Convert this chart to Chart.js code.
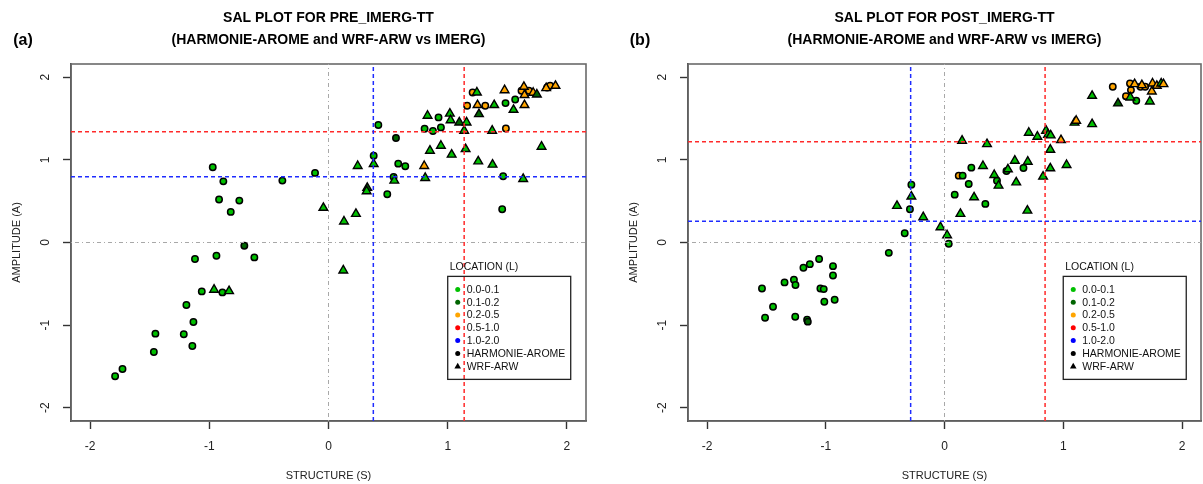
<!DOCTYPE html>
<html><head><meta charset="utf-8">
<script src="https://cdn.jsdelivr.net/npm/chart.js@4/dist/chart.umd.min.js"></script>
<style>
html,body{margin:0;padding:0;background:#fff;}
#wrap{position:relative;width:1203px;height:484px;overflow:hidden;background:#fff;}
canvas{position:absolute;top:0;}
</style></head><body>
<div id="wrap">
<canvas id="c1" width="600" height="484" style="left:0px"></canvas>
<canvas id="c2" width="608" height="484" style="left:600px"></canvas>
</div>
<script>
// ---------- data ----------
const tickValues = [-2, -1, 0, 1, 2];
const axisMin = -2.16, axisMax = 2.16;
const locationLabels = ['0.0-0.1', '0.1-0.2', '0.2-0.5', '0.5-1.0', '1.0-2.0'];
const locationColors = ['#00c000', '#006400', '#ffa500', '#ff0000', '#0000ff'];
const modelLabels = ['HARMONIE-AROME', 'WRF-ARW'];
const legendTitle = 'LOCATION (L)';
const xTitle = 'STRUCTURE (S)';
const yTitle = 'AMPLITUDE (A)';
const preTitle = ['SAL PLOT FOR PRE_IMERG-TT', '(HARMONIE-AROME and WRF-ARW vs IMERG)'];
const postTitle = ['SAL PLOT FOR POST_IMERG-TT', '(HARMONIE-AROME and WRF-ARW vs IMERG)'];
const panelTags = ['(a)', '(b)'];

// PRE_IMERG-TT : HARMONIE-AROME (circles)
const preHarmS = [-0.971,-0.882,-0.387,-0.113,-0.918,-0.748,-0.820,-0.706,-0.940,-0.622,-1.120,-1.063,-0.890,-1.192,-1.133,-1.452,-1.214,-1.142,-1.465,-1.728,-1.790,
  0.418,0.566,0.923,0.806,0.876,0.943,1.488,1.209,1.163,1.315,1.485,1.566,1.619,1.681,1.834,1.859,1.465,1.457,0.379,0.585,0.644,0.546,0.493];
const preHarmA = [0.910,0.740,0.749,0.842,0.520,0.507,0.370,-0.040,-0.160,-0.180,-0.200,-0.592,-0.604,-0.757,-0.962,-1.103,-1.111,-1.252,-1.325,-1.530,-1.618,
  1.421,1.264,1.514,1.377,1.349,1.393,1.380,1.815,1.655,1.655,1.687,1.730,1.836,1.836,1.876,1.896,0.801,0.402,1.051,0.954,0.922,0.793,0.584];
const preHarmL = [0,0,0,0,0,0,0,1,0,0,0,0,0,0,0,0,0,0,0,0,0,
  0,1,0,0,0,0,2,2,2,2,0,0,2,2,2,2,0,0,0,0,0,0,0];
// PRE_IMERG-TT : WRF-ARW (triangles)
const preWrfS = [-0.043,-0.960,-0.834,0.831,1.018,1.024,1.097,1.158,1.138,1.373,1.245,1.477,1.250,1.390,1.262,1.552,1.644,1.639,1.644,1.717,1.748,1.904,1.826,
  1.787,0.851,0.943,1.033,1.150,1.256,1.376,1.633,0.803,0.811,0.379,0.245,0.552,0.325,0.320,0.230,0.130,0.124];
const preWrfA = [0.420,-0.571,-0.588,1.534,1.560,1.480,1.453,1.453,1.353,1.353,1.815,1.843,1.663,1.663,1.554,1.606,1.663,1.884,1.784,1.812,1.791,1.896,1.868,
  1.159,1.111,1.171,1.063,1.131,0.982,0.942,0.769,0.926,0.781,0.950,0.926,0.749,0.661,0.620,0.346,0.254,-0.338];
const preWrfL = [0,0,0,0,0,0,1,0,0,0,0,2,2,0,1,0,2,2,2,2,1,2,2,
  0,0,0,0,0,0,0,0,2,0,0,0,0,1,0,0,0,0];
// PRE reference lines [blue, red]
const preLineS = [0.376, 1.138];
const preLineA = [0.797, 1.340];

// POST_IMERG-TT : HARMONIE-AROME (circles)
const postHarmS = [-0.279,-0.291,-0.335,-0.469,-1.056,-1.134,-1.188,-0.939,-0.939,-1.268,-1.347,-1.255,-1.537,-1.045,-1.017,-0.925,-1.012,-1.444,-1.511,-1.257,-1.157,-1.151,
  0.036,0.086,0.344,0.204,0.120,0.153,0.226,0.442,0.522,0.665,1.417,1.528,1.615,1.570,1.562,1.651,1.690];
const postHarmA = [0.700,0.402,0.112,-0.125,-0.200,-0.262,-0.306,-0.286,-0.399,-0.451,-0.483,-0.515,-0.556,-0.556,-0.564,-0.692,-0.717,-0.777,-0.910,-0.898,-0.934,-0.958,
  -0.016,0.579,0.467,0.708,0.809,0.809,0.906,0.748,0.866,0.902,1.884,1.771,1.715,1.844,1.924,1.884,1.884];
const postHarmL = [0,0,0,0,0,0,0,0,0,0,0,0,0,0,0,0,0,0,0,0,0,1,
  0,0,0,0,2,0,0,0,0,0,2,2,0,2,2,2,2];
// POST_IMERG-TT : WRF-ARW (triangles)
const postWrfS = [-0.279,-0.400,-0.179,-0.034,0.022,0.134,0.249,0.148,0.358,0.324,0.419,0.455,0.534,0.592,0.701,0.604,0.698,0.830,0.891,0.891,1.028,
  0.710,0.782,0.855,0.872,0.894,0.981,1.095,1.109,1.243,1.243,1.461,1.565,1.729,1.601,1.662,1.746,1.752,1.788,1.825,1.844];
const postWrfA = [0.556,0.443,0.306,0.185,0.088,0.346,0.547,1.232,1.191,0.926,0.817,0.688,0.886,0.990,0.978,0.728,0.386,0.797,0.898,1.123,0.938,
  1.328,1.280,1.353,1.304,1.296,1.240,1.450,1.473,1.433,1.775,1.683,1.755,1.707,1.916,1.904,1.828,1.924,1.896,1.924,1.916];
const postWrfL = [0,0,0,0,0,0,0,0,0,0,0,0,0,0,0,0,0,0,0,0,0,
  0,0,0,0,0,2,0,2,0,0,1,0,0,2,2,2,2,2,0,2];
// POST reference lines [blue, red]
const postLineS = [-0.285, 0.847];
const postLineA = [0.257, 1.220];

// ---------- styling / layout constants ----------
const FONT = '"Liberation Sans", Arial, Helvetica, sans-serif';
const lineColors = ['#1f2cff', '#ff2a2a'];
const zeroColor = '#a8a8a8';
const legendAnchor = {s: 1.0, a: -0.41};

function pts(S, A) { return S.map((s, i) => ({x: s, y: A[i]})); }
function refLine(vertical, v, color, dash, width, order) {
  const data = vertical ? [{x: v, y: axisMin}, {x: v, y: axisMax}] : [{x: axisMin, y: v}, {x: axisMax, y: v}];
  return {data, showLine: true, borderColor: color, borderWidth: width, borderDash: dash,
    pointRadius: 0, pointHoverRadius: 0, fill: false, order, clip: 0};
}

const decor = {
  id: 'decor',
  beforeDatasetsDraw(chart, args, o) {
    const ca = chart.chartArea, ctx = chart.ctx;
    ctx.save();
    ctx.strokeStyle = '#6a6a6a';
    ctx.lineWidth = 1.6;
    ctx.strokeRect(ca.left, ca.top, ca.right - ca.left, ca.bottom - ca.top);
    ctx.restore();
  },
  afterDraw(chart, args, o) {
    const ca = chart.chartArea, ctx = chart.ctx;
    const xs = chart.scales.x, ys = chart.scales.y;
    ctx.save();
    ctx.fillStyle = '#000';
    ctx.textAlign = 'center';
    ctx.textBaseline = 'middle';
    ctx.font = 'bold 14px ' + FONT;
    const cx = (ca.left + ca.right) / 2;
    ctx.fillText(o.title[0], cx, 18);
    ctx.fillText(o.title[1], cx, 40);
    ctx.font = 'bold 16px ' + FONT;
    ctx.fillText(o.tag, ca.left - 48, 41);
    // legend
    const lx = xs.getPixelForValue(legendAnchor.s);
    const ty = ys.getPixelForValue(legendAnchor.a);
    ctx.textAlign = 'left';
    ctx.font = '10.5px ' + FONT;
    ctx.fillStyle = '#111';
    ctx.fillText(legendTitle, lx + 2, ty - 9);
    ctx.strokeStyle = '#222';
    ctx.lineWidth = 1.3;
    ctx.strokeRect(lx, ty, 123, 103);
    const items = locationLabels.map((l, i) => ({label: l, color: locationColors[i], shape: 'dot'}))
      .concat([{label: modelLabels[0], color: '#000', shape: 'dot'}, {label: modelLabels[1], color: '#000', shape: 'tri'}]);
    items.forEach((it, i) => {
      const y = ty + 13 + i * 12.8;
      ctx.fillStyle = it.color;
      ctx.beginPath();
      if (it.shape === 'dot') {
        ctx.arc(lx + 10, y, 2.5, 0, Math.PI * 2);
      } else {
        ctx.moveTo(lx + 10, y - 3.5);
        ctx.lineTo(lx + 13.3, y + 2.2);
        ctx.lineTo(lx + 6.7, y + 2.2);
        ctx.closePath();
      }
      ctx.fill();
      ctx.fillStyle = '#111';
      ctx.fillText(it.label, lx + 19, y + 0.5);
    });
    ctx.restore();
  }
};

function makeChart(id, padLeft, padRight, title, tag, hS, hA, hL, wS, wA, wL, lS, lA) {
  const datasets = [
    refLine(true, lS[0], lineColors[0], [4, 3], 1.5, 0),
    refLine(false, lA[0], lineColors[0], [4, 3], 1.5, 0),
    refLine(true, lS[1], lineColors[1], [4, 3], 1.5, 0),
    refLine(false, lA[1], lineColors[1], [4, 3], 1.5, 0),
    refLine(true, 0, zeroColor, [1, 3, 4, 3], 1, 0),
    refLine(false, 0, zeroColor, [1, 3, 4, 3], 1, 0),
    {label: modelLabels[1], data: pts(wS, wA), pointStyle: 'triangle', pointRadius: 5, pointHoverRadius: 5,
      backgroundColor: wL.map(c => locationColors[c]), borderColor: '#000', borderWidth: 1.4, order: 1},
    {label: modelLabels[0], data: pts(hS, hA), pointStyle: 'circle', pointRadius: 3.2, pointHoverRadius: 3.2,
      backgroundColor: hL.map(c => locationColors[c]), borderColor: '#000', borderWidth: 1.5, order: 2}
  ];
  const commonTicks = (scale) => { scale.ticks = tickValues.map(v => ({value: v})); };
  return new Chart(document.getElementById(id), {
    type: 'scatter',
    data: {datasets},
    plugins: [decor],
    options: {
      responsive: false,
      animation: false,
      devicePixelRatio: 1,
      layout: {padding: {left: padLeft, right: padRight, top: 64, bottom: 0}},
      plugins: {legend: {display: false}, tooltip: {enabled: false}, title: {display: false},
        decor: {title, tag}},
      scales: {
        x: {
          type: 'linear', min: axisMin, max: axisMax,
          afterBuildTicks: commonTicks,
          afterFit: (s) => { s.height = 63; s.paddingLeft = 0; s.paddingRight = 0; },
          grid: {drawOnChartArea: false, drawTicks: true, tickLength: 8, tickColor: '#333', tickWidth: 1.4},
          border: {display: true, color: '#333', width: 1.6},
          ticks: {font: {size: 12, family: FONT}, color: '#222', padding: 10, minRotation: 0, maxRotation: 0,
            callback: (v) => String(v)},
          title: {display: true, text: xTitle, font: {size: 11, family: FONT}, color: '#222', padding: {top: 0, bottom: 1.5}}
        },
        y: {
          type: 'linear', min: axisMin, max: axisMax,
          afterBuildTicks: commonTicks,
          afterFit: (s) => { s.width = 71; s.paddingTop = 0; s.paddingBottom = 0; },
          grid: {drawOnChartArea: false, drawTicks: true, tickLength: 8, tickColor: '#333', tickWidth: 1.4},
          border: {display: true, color: '#333', width: 1.6},
          ticks: {font: {size: 12, family: FONT}, color: '#222', padding: 12, minRotation: 90, maxRotation: 90,
            crossAlign: 'center', callback: (v) => String(v)},
          title: {display: true, text: yTitle, font: {size: 11, family: FONT}, color: '#222', padding: {top: 10.5, bottom: 0}}
        }
      }
    }
  });
}

makeChart('c1', 0, 14, preTitle, panelTags[0], preHarmS, preHarmA, preHarmL, preWrfS, preWrfA, preWrfL, preLineS, preLineA);
makeChart('c2', 17, 7, postTitle, panelTags[1], postHarmS, postHarmA, postHarmL, postWrfS, postWrfA, postWrfL, postLineS, postLineA);
</script>
</body></html>
